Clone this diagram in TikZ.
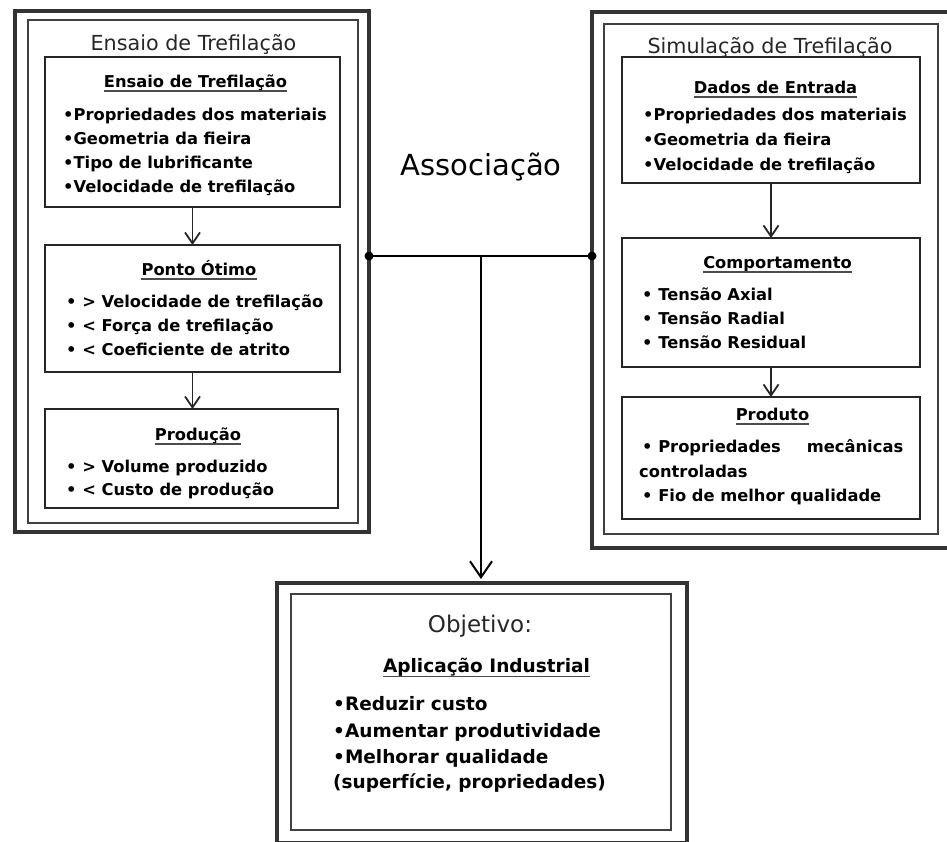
\documentclass[tikz,border=0pt]{standalone}
\usepackage{fontspec}
\setmainfont{DejaVu Sans}
\usetikzlibrary{arrows.meta}

\tikzset{
  frameouter/.style={draw=black!80, line width=4pt, inner sep=0pt, outer sep=0pt},
  frameinner/.style={draw=black!75, line width=2pt, inner sep=0pt, outer sep=0pt},
  stepbox/.style={draw=black!85, line width=1.8pt, inner sep=0pt, outer sep=0pt},
  ttl/.style={anchor=base, inner sep=0pt, text=black!85, font=\fontsize{20.7}{24}\selectfont},
  hdr/.style={anchor=base, inner sep=0pt, font=\fontsize{16.3}{19}\selectfont\bfseries},
  item/.style={anchor=base west, inner sep=0pt, font=\fontsize{16.3}{19}\selectfont\bfseries},
  bighdr/.style={anchor=base, inner sep=0pt, font=\fontsize{18.5}{22}\selectfont\bfseries},
  bigitem/.style={anchor=base west, inner sep=0pt, font=\fontsize{18.5}{22}\selectfont\bfseries},
  uln/.style={draw=black!70, line width=1.3pt},
  flow/.style={draw=black!85, line width=1.8pt, -{Straight Barb[length=11pt, width=15pt, line width=1.8pt]}},
  link/.style={draw=black, line width=2pt},
  mainarrow/.style={draw=black, line width=2pt, -{Straight Barb[length=16pt, width=22pt, line width=2pt]}},
}

\begin{document}
\begin{tikzpicture}[x=1pt, y=-1pt]
\useasboundingbox (0,0) rectangle (947,841);

% ---------- left block: drawing test ----------
\node[frameouter, minimum width=354.5pt, minimum height=521.5pt] (lo) at (191.75,271.25) {};
\node[frameinner, minimum width=330pt, minimum height=502.5pt] (li) at (193,271.25) {};
\node[ttl] (lt) at (193.5,50) {Ensaio de Trefilação};

\node[stepbox, minimum width=295pt, minimum height=150pt] (l1) at (192.5,132) {};
\node[hdr] (l1h) at (195.5,87) {Ensaio de Trefilação};
\draw[uln] ([yshift=-4pt]l1h.base west) -- ([yshift=-4pt]l1h.base east);
\foreach \t [count=\i] in {•Propriedades dos materiais, •Geometria da fieira, •Tipo de lubrificante, •Velocidade de trefilação}
  \node[item] (l1i\i) at (63, 120+24.3*\i-24.3) {\t};

\node[stepbox, minimum width=295pt, minimum height=127pt] (l2) at (192.5,308.5) {};
\node[hdr] (l2h) at (199,275) {Ponto Ótimo};
\draw[uln] ([yshift=-4pt]l2h.base west) -- ([yshift=-4pt]l2h.base east);
\foreach \t [count=\i] in {• > Velocidade de trefilação, • < Força de trefilação, • < Coeficiente de atrito}
  \node[item] (l2i\i) at (66, 307+24*\i-24) {\t};

\node[stepbox, minimum width=293pt, minimum height=99pt] (l3) at (191.5,458.5) {};
\node[hdr] (l3h) at (198,440) {Produção};
\draw[uln] ([yshift=-4pt]l3h.base west) -- ([yshift=-4pt]l3h.base east);
\foreach \t [count=\i] in {• > Volume produzido, • < Custo de produção}
  \node[item] (l3i\i) at (66, 472+23.5*\i-23.5) {\t};

\draw[flow] (l1.south) -- (l1.south |- l2.north);
\draw[flow] (l2.south) -- (l2.south |- l3.north);

% ---------- right block: simulation ----------
\node[frameouter, minimum width=360pt, minimum height=536.5pt] (ro) at (772,279.75) {};
\node[frameinner, minimum width=334.5pt, minimum height=510pt] (ri) at (770.75,279) {};
\node[ttl] (rt) at (770,53) {Simulação de Trefilação};

\node[stepbox, minimum width=298pt, minimum height=126pt] (r1) at (771,120) {};
\node[hdr] (r1h) at (775.5,93) {Dados de Entrada};
\draw[uln] ([yshift=-4pt]r1h.base west) -- ([yshift=-4pt]r1h.base east);
\foreach \t [count=\i] in {•Propriedades dos materiais, •Geometria da fieira, •Velocidade de trefilação}
  \node[item] (r1i\i) at (643, 120+25*\i-25) {\t};

\node[stepbox, minimum width=298pt, minimum height=129pt] (r2) at (771,302.5) {};
\node[hdr] (r2h) at (777.5,268) {Comportamento};
\draw[uln] ([yshift=-4pt]r2h.base west) -- ([yshift=-4pt]r2h.base east);
\foreach \t [count=\i] in {• Tensão Axial, • Tensão Radial, • Tensão Residual}
  \node[item] (r2i\i) at (642, 300+24*\i-24) {\t};

\node[stepbox, minimum width=298pt, minimum height=122pt] (r3) at (771,458) {};
\node[hdr] (r3h) at (772.5,420) {Produto};
\draw[uln] ([yshift=-4pt]r3h.base west) -- ([yshift=-4pt]r3h.base east);
\node[item] (r3i1) at (642,452) {\makebox[261pt][l]{• Propriedades\hfill mecânicas}};
\node[item] (r3i2) at (639,477) {controladas};
\node[item] (r3i3) at (642,501) {• Fio de melhor qualidade};

\draw[flow] (r1.south) -- (r1.south |- r2.north);
\draw[flow] (r2.south) -- (r2.south |- r3.north);

% ---------- association and goal ----------
\node[anchor=base, inner sep=0pt, font=\fontsize{29}{34}\selectfont] (assoc) at (481,175) {Associação};
\coordinate (jn) at (481,256);

\node[frameouter, minimum width=410pt, minimum height=260pt] (go) at (482,713) {};
\node[frameinner, minimum width=380pt, minimum height=236pt] (gi) at (481,712) {};
\node[anchor=base, inner sep=0pt, text=black!85, font=\fontsize{23}{27}\selectfont] (gt) at (480,632) {Objetivo:};
\node[bighdr] (gh) at (486.5,672) {Aplicação Industrial};
\draw[uln] ([yshift=-4.5pt]gh.base west) -- ([yshift=-4.5pt]gh.base east);
\node[bigitem] (gi1) at (333,710) {•Reduzir custo};
\node[bigitem] (gi2) at (333,737) {•Aumentar produtividade};
\node[bigitem] (gi3) at (333,763) {•Melhorar qualidade};
\node[bigitem] (gi4) at (333,788) {(superfície, propriedades)};

\draw[link] (jn -| lo.east) -- (jn -| ro.west);
\fill (jn -| lo.east) circle (4.5pt);
\fill (jn -| ro.west) circle (4.5pt);
\draw[mainarrow, shorten >=4pt] (jn) -- (jn |- go.north);
\end{tikzpicture}
\end{document}
